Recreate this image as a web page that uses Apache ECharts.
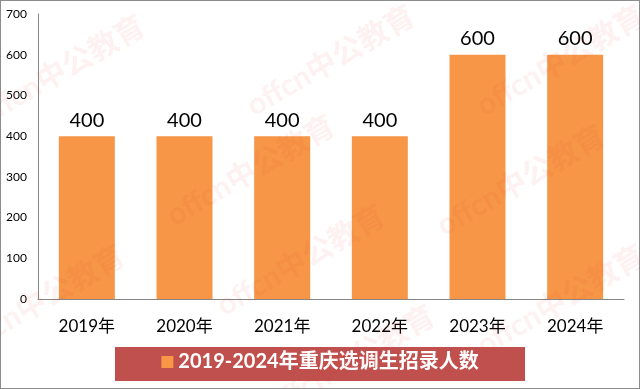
<!DOCTYPE html>
<html><head><meta charset="utf-8">
<script src="https://cdn.jsdelivr.net/npm/echarts@6/dist/echarts.min.js"></script>
<style>html,body{margin:0;padding:0;background:#fff}#c{width:640px;height:389px;box-sizing:border-box;border:1px solid #8c8c8c}</style>
</head><body><div id="c"></div>
<script>
const categories = ['2019年','2020年','2021年','2022年','2023年','2024年'];
const values = [400,400,400,400,600,600];
const seriesName = '2019-2024年重庆选调生招录人数';
const yTicks = {min:0,max:700,interval:100};

const chart = echarts.init(document.getElementById('c'));
const font = 'Lato, "Noto Sans CJK SC", sans-serif';
const wm = [[60,70],[330,60],[560,60],[250,170],[520,180],[300,260],[40,300],[560,300],[350,360]];
const graphics = [
  {type:'rect', shape:{x:114,y:346,width:410,height:34}, style:{fill:'#C0504D'}, z:0}
];
wm.forEach(p=>graphics.push({type:'text', x:p[0], y:p[1], rotation:Math.PI/6, z:100, silent:true,
  style:{text:'offcn中公教育', font:'bold 30px '+font, fill:'rgba(230,60,60,0.07)', align:'center', verticalAlign:'middle'}}));
chart.setOption({
  animation:false,
  textStyle:{fontFamily:font},
  grid:{left:37,top:13,right:15,bottom:89,containLabel:false},
  graphic:graphics,
  legend:{bottom:11,left:'center',itemWidth:12,itemHeight:12,itemGap:6, icon:'rect',z:5,
    textStyle:{color:'#fff',fontWeight:'bold',fontSize:20,fontFamily:font}},
  xAxis:{type:'category',data:categories,
    axisLine:{lineStyle:{color:'#868686'}},axisTick:{show:false},
    axisLabel:{color:'#000',fontSize:17,margin:19,fontFamily:font}},
  yAxis:{type:'value',min:yTicks.min,max:yTicks.max,interval:yTicks.interval,
    axisLine:{show:true,lineStyle:{color:'#868686'}},axisTick:{show:false},splitLine:{show:false},
    axisLabel:{color:'#000',fontSize:12,margin:11,fontFamily:font}},
  series:[{name:seriesName,type:'bar',data:values,barWidth:56,
    itemStyle:{color:'#F79646'},
    label:{show:true,position:'top',color:'#000',fontSize:20,distance:6,fontFamily:font}}]
});
</script></body></html>
